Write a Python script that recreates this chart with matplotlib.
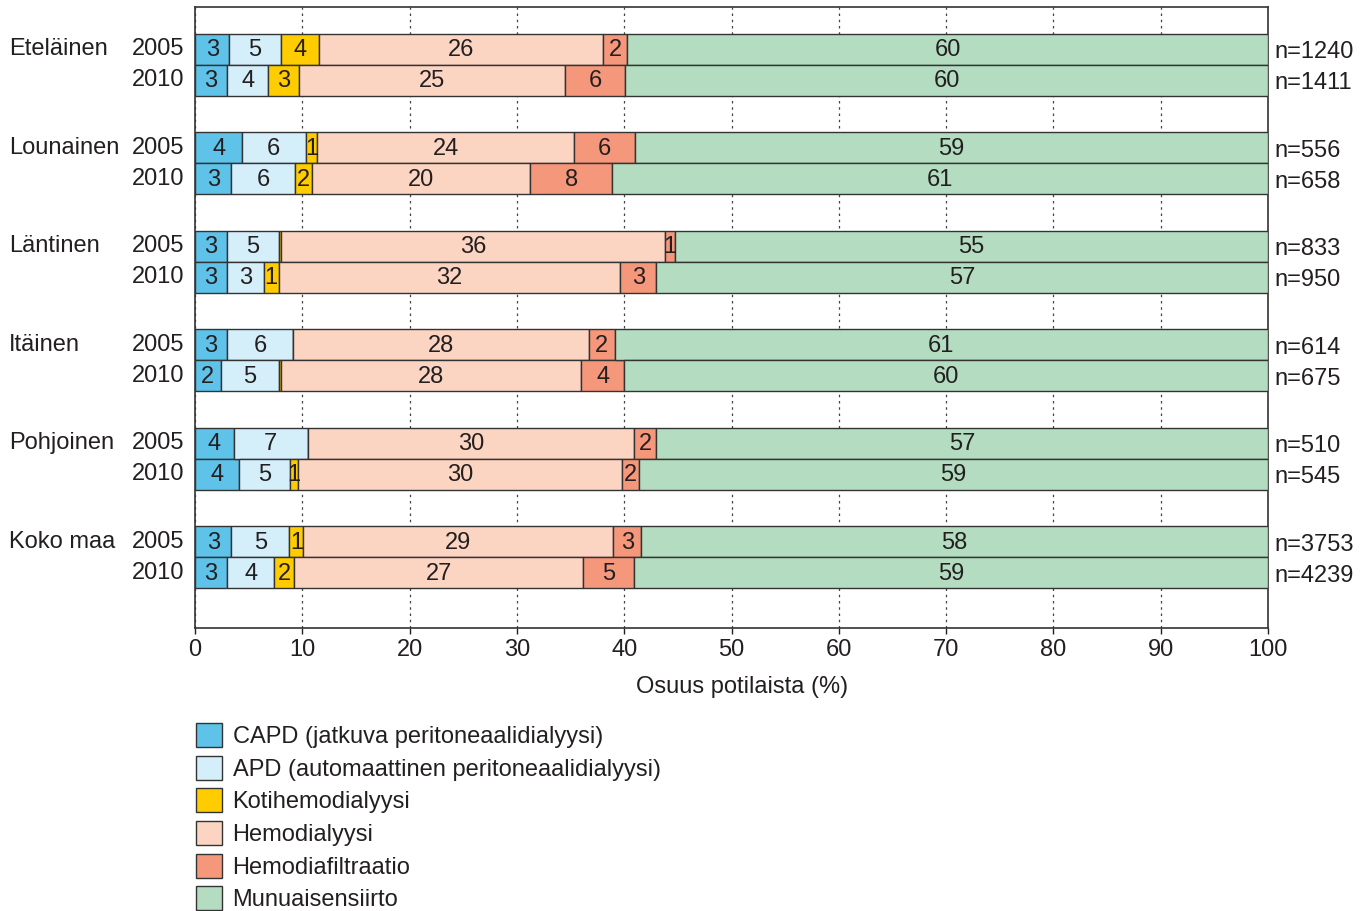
import matplotlib
matplotlib.use("Agg")
import matplotlib.pyplot as plt
import matplotlib.transforms as mtransforms
import numpy as np

plt.rcParams["font.family"] = ["Liberation Sans", "DejaVu Sans"]

regions = ["Eteläinen", "Lounainen", "Läntinen", "Itäinen", "Pohjoinen", "Koko maa"]
years = ["2005", "2010"]

# Share of patients (%) per treatment, rows: region x year (2005, 2010)
capd = [3.2, 3.0, 4.4, 3.4, 3.0, 3.0, 3.0, 2.4, 3.6, 4.1, 3.4, 3.0]
apd = [4.8, 3.8, 5.9, 5.9, 4.8, 3.4, 6.1, 5.4, 6.9, 4.8, 5.4, 4.4]
koti = [3.6, 2.9, 1.1, 1.6, 0.2, 1.4, 0.0, 0.2, 0.0, 0.7, 1.3, 1.8]
hemo = [26.4, 24.8, 23.9, 20.3, 35.8, 31.8, 27.6, 28.0, 30.4, 30.2, 28.9, 27.0]
hdf = [2.3, 5.6, 5.7, 7.7, 0.9, 3.4, 2.4, 4.0, 2.1, 1.6, 2.6, 4.7]
siirto = [59.7, 59.9, 59.0, 61.1, 55.3, 57.0, 60.9, 60.0, 57.0, 58.6, 58.4, 59.1]

n_counts = [1240, 1411, 556, 658, 833, 950, 614, 675, 510, 545, 3753, 4239]

series_names = [
    "CAPD (jatkuva peritoneaalidialyysi)",
    "APD (automaattinen peritoneaalidialyysi)",
    "Kotihemodialyysi",
    "Hemodialyysi",
    "Hemodiafiltraatio",
    "Munuaisensiirto",
]
series_colors = ["#5ec2e9", "#d4eefa", "#ffcc00", "#fcd4c2", "#f4977b", "#b3dcc0"]

text_color = "#231f20"
edge_color = "#333333"
fs = 17

fig = plt.figure(figsize=(13.72, 9.11), dpi=100)
ax = fig.add_axes([195 / 1372, 1 - 628 / 911, (1268 - 195) / 1372, (628 - 7) / 911])

# row positions: two touching bars per region
group_step = 3.18
ypos = []
for g in range(len(regions)):
    ypos += [g * group_step, g * group_step + 1.0]
ypos = np.array(ypos)

series = [capd, apd, koti, hemo, hdf, siirto]
left = np.zeros(len(ypos))
handles = []
for vals, color, name in zip(series, series_colors, series_names):
    vals = np.array(vals)
    bars = ax.barh(ypos, vals, left=left, height=1.0, color=color,
                   edgecolor=edge_color, linewidth=1.0, label=name, zorder=3)
    handles.append(bars)
    for y, l, v in zip(ypos, left, vals):
        if v >= 0.5:
            ax.text(l + v / 2, y + 0.03, f"{v:.0f}", ha="center", va="center",
                    fontsize=fs, color=text_color, zorder=4)
    left = left + vals

ax.set_xlim(0, 100)
ax.set_ylim(-1.355 + 20.03, -1.355)
ax.set_xticks(np.arange(0, 101, 10))
ax.set_yticks([])
ax.tick_params(axis="x", direction="out", length=4, width=1.0, colors=text_color,
               labelsize=fs, pad=4)
ax.xaxis.grid(True, linestyle=(0, (2, 3)), color="#444444", linewidth=0.9, zorder=0)
ax.set_axisbelow(True)
for s in ax.spines.values():
    s.set_color("#333333")
    s.set_linewidth(1.2)

ax.set_xlabel("Osuus potilaista (%)", fontsize=fs, color=text_color)
ax.xaxis.set_label_coords(0.51, -0.077)

# region, year and n labels outside the plotting area
trans = mtransforms.blended_transform_factory(fig.transFigure, ax.transData)
for i, y in enumerate(ypos):
    g, k = divmod(i, 2)
    if k == 0:
        ax.text(9 / 1372, y, regions[g], transform=trans, ha="left", va="center",
                fontsize=fs, color=text_color, clip_on=False)
    ax.text(184 / 1372, y, years[k], transform=trans, ha="right", va="center",
            fontsize=fs, color=text_color, clip_on=False)
    ax.text(1274 / 1372, y + 0.1, f"n={n_counts[i]}", transform=trans, ha="left",
            va="center", fontsize=fs, color=text_color, clip_on=False)

fig.legend(handles=handles, labels=series_names, loc="upper left",
           bbox_to_anchor=(196 / 1372, 1 - 723 / 911), frameon=False,
           fontsize=fs, handlelength=1.1, handleheight=1.2,
           labelspacing=0.32, handletextpad=0.45, borderpad=0, borderaxespad=0,
           labelcolor=text_color)

fig.savefig("out.png", dpi=100)
